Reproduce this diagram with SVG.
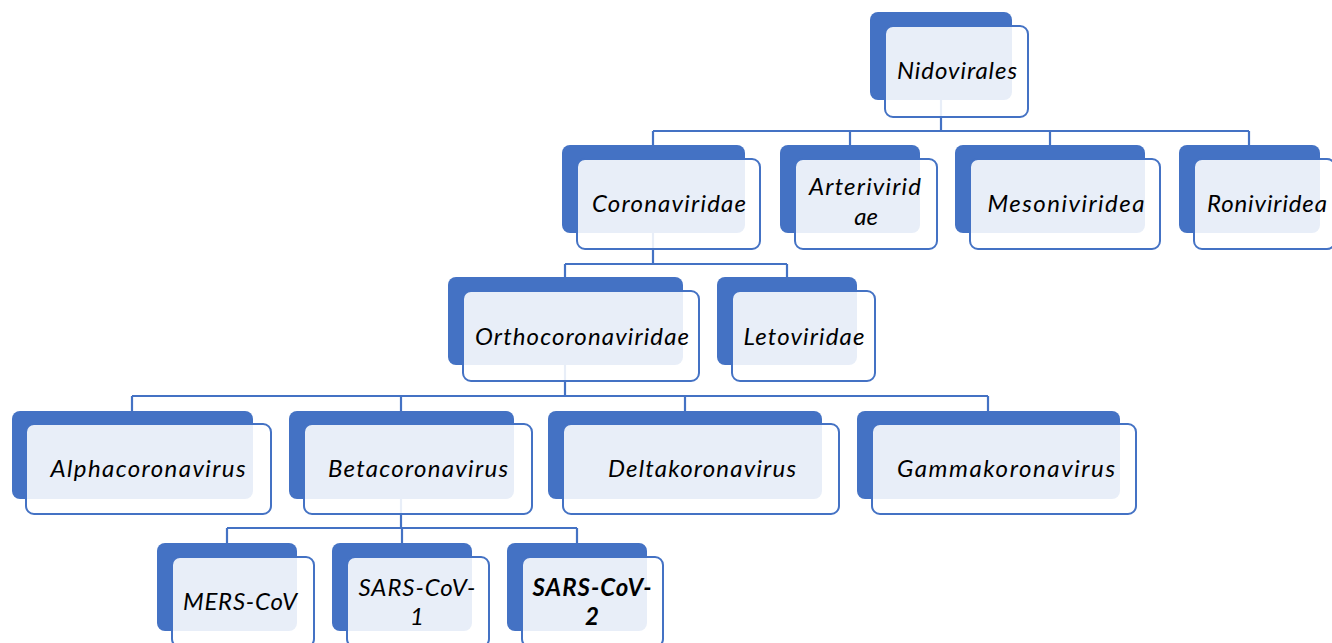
<svg xmlns="http://www.w3.org/2000/svg" width="1332" height="643" viewBox="0 0 1332 643">
<style>
.bk{fill:#4472C4;}
.fr{fill:#FFFFFF;fill-opacity:0.88;stroke:#4472C4;stroke-width:2;}
.cn{fill:none;stroke:#4472C4;stroke-width:2.2;}
text{font-family:"Lato","Open Sans",sans-serif;font-style:italic;font-size:24px;fill:#000;text-anchor:middle;}
.b{font-weight:bold;}
</style>
<rect width="1332" height="643" fill="#FFFFFF"/>
<g id="connectors">
<path class="cn" d="M941 100 V131 M653 131 H1249 M653 131 V145 M850 131 V145 M1050 131 V145 M1249 131 V145"/>
<path class="cn" d="M653 233 V264 M565 264 H787 M565 264 V277 M787 264 V277"/>
<path class="cn" d="M565 365 V396 M132 396 H988 M132 396 V411 M401 396 V411 M685 396 V411 M988 396 V411"/>
<path class="cn" d="M401 499 V528 M227 528 H577 M227 528 V543 M402 528 V543 M577 528 V543"/>
</g>
<g id="n-nidovirales">
<rect class="bk" x="870" y="12" width="142" height="88" rx="8"/>
<rect class="fr" x="885" y="26" width="143" height="91" rx="8"/>
<text x="957" y="79" textLength="120">Nidovirales</text>
</g>
<g id="n-coronaviridae">
<rect class="bk" x="562" y="145" width="183" height="88" rx="8"/>
<rect class="fr" x="577" y="159" width="183" height="90" rx="8"/>
<text x="669" y="212" textLength="154">Coronaviridae</text>
</g>
<g id="n-arteriviridae">
<rect class="bk" x="780" y="145" width="140" height="88" rx="8"/>
<rect class="fr" x="795" y="159" width="142" height="90" rx="8"/>
<text x="865" y="195" textLength="112">Arterivirid</text>
<text x="866" y="225">ae</text>
</g>
<g id="n-mesoniviridea">
<rect class="bk" x="955" y="145" width="190" height="88" rx="8"/>
<rect class="fr" x="970" y="159" width="190" height="90" rx="8"/>
<text x="1066" y="212" textLength="157">Mesoniviridea</text>
</g>
<g id="n-roniviridea">
<rect class="bk" x="1179" y="145" width="141" height="88" rx="8"/>
<rect class="fr" x="1194" y="159" width="141" height="90" rx="8"/>
<text x="1267" y="212" textLength="120">Roniviridea</text>
</g>
<g id="n-orthocoronaviridae">
<rect class="bk" x="448" y="277" width="235" height="88" rx="8"/>
<rect class="fr" x="463" y="291" width="236" height="90" rx="8"/>
<text x="582" y="345" textLength="214">Orthocoronaviridae</text>
</g>
<g id="n-letoviridae">
<rect class="bk" x="717" y="277" width="140" height="88" rx="8"/>
<rect class="fr" x="732" y="291" width="143" height="90" rx="8"/>
<text x="804" y="345" textLength="121">Letoviridae</text>
</g>
<g id="n-alphacoronavirus">
<rect class="bk" x="12" y="411" width="241" height="88" rx="8"/>
<rect class="fr" x="26" y="424" width="245" height="90" rx="8"/>
<text x="148" y="477" textLength="195">Alphacoronavirus</text>
</g>
<g id="n-betacoronavirus">
<rect class="bk" x="289" y="411" width="225" height="88" rx="8"/>
<rect class="fr" x="304" y="424" width="228" height="90" rx="8"/>
<text x="418" y="477" textLength="180">Betacoronavirus</text>
</g>
<g id="n-deltakoronavirus">
<rect class="bk" x="548" y="411" width="274" height="88" rx="8"/>
<rect class="fr" x="563" y="424" width="276" height="90" rx="8"/>
<text x="702" y="477" textLength="188">Deltakoronavirus</text>
</g>
<g id="n-gammakoronavirus">
<rect class="bk" x="857" y="411" width="263" height="88" rx="8"/>
<rect class="fr" x="872" y="424" width="264" height="90" rx="8"/>
<text x="1006" y="477" textLength="218">Gammakoronavirus</text>
</g>
<g id="n-mers">
<rect class="bk" x="157" y="543" width="140" height="88" rx="8"/>
<rect class="fr" x="172" y="557" width="142" height="90" rx="8"/>
<text x="240" y="610" textLength="114">MERS-CoV</text>
</g>
<g id="n-sars1">
<rect class="bk" x="332" y="543" width="140" height="88" rx="8"/>
<rect class="fr" x="347" y="557" width="142" height="90" rx="8"/>
<text x="417" y="596" textLength="117">SARS-CoV-</text>
<text x="417" y="625">1</text>
</g>
<g id="n-sars2">
<rect class="bk" x="507" y="543" width="140" height="88" rx="8"/>
<rect class="fr" x="522" y="557" width="141" height="90" rx="8"/>
<text class="b" x="592" y="596" textLength="119">SARS-CoV-</text>
<text class="b" x="592" y="625">2</text>
</g>
</svg>
